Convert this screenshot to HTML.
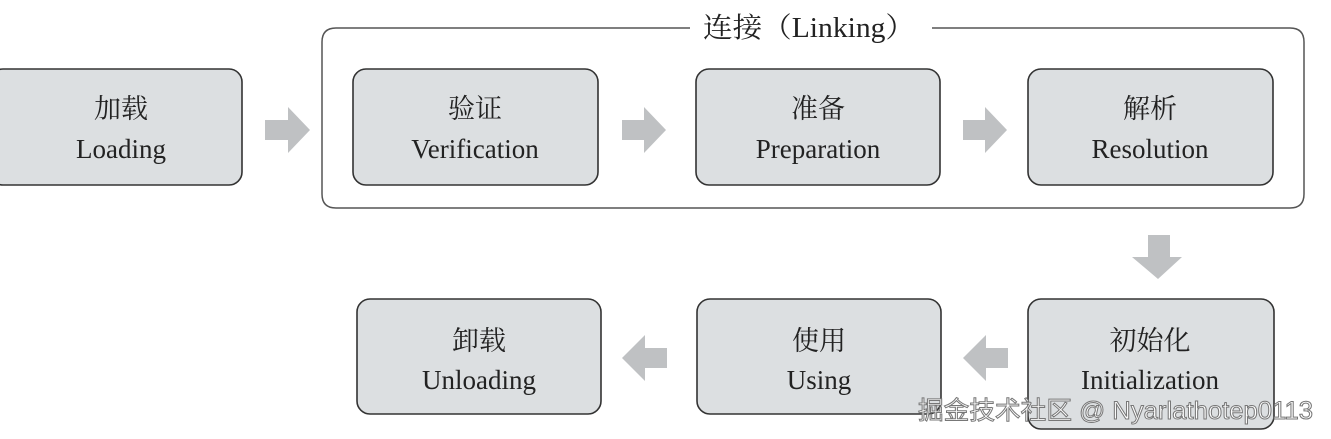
<!DOCTYPE html>
<html><head><meta charset="utf-8"><style>
html,body{margin:0;padding:0;background:#fff;width:1331px;height:439px;overflow:hidden}
svg text{font-family:"Liberation Serif","Noto Serif CJK SC",serif;fill:#222}
</style></head><body>
<svg width="1331" height="439" viewBox="0 0 1331 439" xmlns="http://www.w3.org/2000/svg">
<g fill="none" stroke="#555" stroke-width="1.5">
<path d="M690 28 H336 Q322 28 322 42 V194 Q322 208 336 208 H1290 Q1304 208 1304 194 V42 Q1304 28 1290 28 H932"/>
</g>
<text x="703" y="37" font-size="28" textLength="212" lengthAdjust="spacingAndGlyphs">连接（Linking）</text>
<g fill="#dcdfe1" stroke="#333" stroke-width="1.6">
<rect x="-10" y="69" width="252" height="116" rx="13"/>
<rect x="353" y="69" width="245" height="116" rx="13"/>
<rect x="696" y="69" width="244" height="116" rx="13"/>
<rect x="1028" y="69" width="245" height="116" rx="13"/>
<rect x="357" y="299" width="244" height="115" rx="13"/>
<rect x="697" y="299" width="244" height="115" rx="13"/>
<rect x="1028" y="299" width="246" height="130" rx="13"/>
</g>
<g fill="#bfc1c3">
<polygon points="265,120 288,120 288,107 310,130 288,153 288,140 265,140"/>
<polygon points="622,120 644,120 644,107 666,130 644,153 644,140 622,140"/>
<polygon points="963,120 985,120 985,107 1007,130 985,153 985,140 963,140"/>
<polygon points="1148,235 1170,235 1170,257 1182,257 1158,279 1132,257 1148,257"/>
<polygon points="1008,348 986,348 986,335 963,358 986,381 986,368 1008,368"/>
<polygon points="667,348 645,348 645,335 622,358 645,381 645,368 667,368"/>
</g>
<g font-size="27" text-anchor="middle">
<text x="121" y="118">加载</text><text x="121" y="158">Loading</text>
<text x="475" y="118">验证</text><text x="475" y="158">Verification</text>
<text x="818" y="118">准备</text><text x="818" y="158">Preparation</text>
<text x="1150" y="118">解析</text><text x="1150" y="158">Resolution</text>
<text x="479" y="350">卸载</text><text x="479" y="389">Unloading</text>
<text x="819" y="350">使用</text><text x="819" y="389">Using</text>
<text x="1150" y="350">初始化</text><text x="1150" y="389">Initialization</text>
</g>
<text x="918" y="419" font-size="25" textLength="395" lengthAdjust="spacingAndGlyphs" style="font-family:'Liberation Sans','Noto Sans CJK SC',sans-serif;fill:#fff;stroke:#777;stroke-width:1">掘金技术社区 @ Nyarlathotep0113</text>
</svg>
</body></html>
